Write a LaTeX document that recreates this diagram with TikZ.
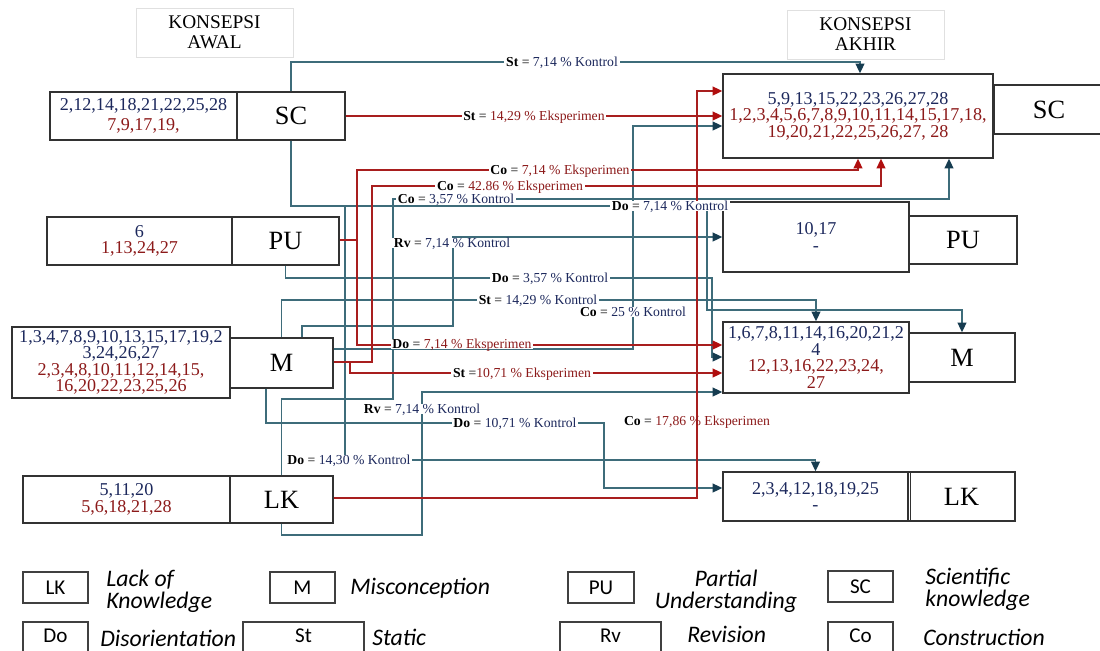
\documentclass[tikz,border=0pt]{standalone}
\usepackage{fontspec}
\setmainfont{Liberation Serif}
\newfontfamily\legfont{Carlito}
\usetikzlibrary{arrows.meta}
\definecolor{tealc}{RGB}{62,108,122}
\definecolor{redc}{RGB}{168,30,30}
\definecolor{arrnavy}{RGB}{22,60,80}
\definecolor{arrred}{RGB}{176,14,14}
\definecolor{numnavy}{RGB}{28,40,92}
\definecolor{numred}{RGB}{140,26,26}
\definecolor{boxc}{RGB}{50,50,50}
\newcommand\lblK[2]{\textbf{#1} = \textcolor{numnavy}{#2 \% Kontrol}}
\newcommand\lblE[2]{\textbf{#1} = \textcolor{numred}{#2 \% Eksperimen}}
\newcommand\nv[1]{\textcolor{numnavy}{#1}}
\newcommand\nr[1]{\textcolor{numred}{#1}}
\begin{document}
\begin{tikzpicture}[x=0.02cm,y=-0.02cm,
  box/.style={draw=boxc,line width=0.8pt,inner sep=0pt,align=center,font=\fontsize{10.3}{9.4}\selectfont},
  lab/.style={draw=boxc,line width=0.8pt,inner sep=0pt,font=\fontsize{15}{16}\selectfont},
  hdr/.style={draw=black!12,line width=0.5pt,align=center,inner sep=0pt,font=\fontsize{11}{11.3}\selectfont,minimum width=3.14cm,minimum height=0.98cm},
  tl/.style={draw=tealc,line width=0.9pt},
  rl/.style={draw=redc,line width=0.9pt},
  ta/.style={tl,-{Triangle[length=5.5pt,width=5pt,color=arrnavy]}},
  ra/.style={rl,-{Triangle[length=5.5pt,width=5pt,color=arrred]}},
  lbl/.style={fill=white,inner xsep=1pt,inner ysep=0.4pt,text height=5.3pt,text depth=0pt,font=\fontsize{7.8}{9}\selectfont},
  leg/.style={draw=black!75,line width=0.8pt,inner sep=0pt,minimum width=1.3cm,minimum height=0.62cm,font=\legfont\fontsize{12}{13}\selectfont},
  legb/.style={font=\legfont\fontsize{12}{13}\selectfont,inner sep=0pt},
  legt/.style={inner sep=0pt,font=\legfont\itshape\fontsize{13.5}{12.5}\selectfont,align=left}
]
\useasboundingbox (0,0) rectangle (1100,650);

% headers
\node[hdr] (hawal) at (214.5,32.5) {KONSEPSI\\AWAL};
\node[hdr] (hakhir) at (865.5,34.5) {KONSEPSI\\AKHIR};

% left boxes
\node[box,minimum width=3.74cm,minimum height=0.96cm,font=\fontsize{10.3}{11.3}\selectfont] (scLn) at (143.5,116) {\nv{2,12,14,18,21,22,25,28}\\\nr{7,9,17,19,}};
\node[lab,minimum width=2.16cm,minimum height=0.96cm] (scL) at (291,116) {SC};
\node[box,minimum width=3.70cm,minimum height=0.96cm] (puLn) at (139.5,241) {\nv{6}\\\nr{1,13,24,27}};
\node[lab,minimum width=2.14cm,minimum height=0.96cm] (puL) at (285.5,241) {PU};
\node[box,minimum width=4.36cm,minimum height=1.42cm] (mLn) at (121,362.5) {\nv{1,3,4,7,8,9,10,13,15,17,19,2}\\\nv{3,24,26,27}\\\nr{2,3,4,8,10,11,12,14,15,}\\\nr{16,20,22,23,25,26}};
\node[lab,minimum width=2.06cm,minimum height=1.0cm] (mL) at (281.5,363) {M};
\node[box,minimum width=4.14cm,minimum height=0.94cm] (lkLn) at (126.5,499.5) {\nv{5,11,20}\\\nr{5,6,18,21,28}};
\node[lab,minimum width=2.06cm,minimum height=0.94cm] (lkL) at (281.5,499.5) {LK};

% right boxes
\node[box,minimum width=5.4cm,minimum height=1.68cm] (scRn) at (858,116) {\nv{5,9,13,15,22,23,26,27,28}\\\nr{1,2,3,4,5,6,7,8,9,10,11,14,15,17,18,}\\\nr{19,20,21,22,25,26,27, 28}};
\node[lab,minimum width=2.2cm,minimum height=0.98cm] (scR) at (1049,109.5) {SC};
\node[box,minimum width=3.72cm,minimum height=1.4cm] (puRn) at (816,237) {\nv{10,17}\\\nv{-}};
\node[lab,minimum width=2.16cm,minimum height=0.96cm] (puR) at (963,240) {PU};
\node[box,minimum width=3.72cm,minimum height=1.42cm] (mRn) at (816,357.5) {\nv{1,6,7,8,11,14,16,20,21,2}\\\nv{4}\\\nr{12,13,16,22,23,24,}\\\nr{27}};
\node[lab,minimum width=2.12cm,minimum height=0.98cm] (mR) at (962,357.5) {M};
\node[box,minimum width=3.7cm,minimum height=0.98cm] (lkRn) at (815.5,496.5) {\nv{2,3,4,12,18,19,25}\\\nv{-}};
\node[lab,minimum width=2.14cm,minimum height=0.98cm] (lkR) at (961.5,496.5) {LK};
\draw[boxc,line width=0.5pt] ([xshift=1.6pt]lkR.north west) -- ([xshift=1.6pt]lkR.south west);

% teal connectors
\draw[ta] (scL.north) |- (860,62) -- (scRn.north -| 860,0);
\draw[ta] (mL.east |- 0,349) -| (633,126) -- (scRn.west |- 0,126);
\draw[ta] (lkL.north) |- (393,399) |- (949,199) -- (scRn.south -| 949,0);
\draw[ta] (scL.south) |- (707,206) |- (962,310) -- (mR.north);
\draw[ta] (scL.south) |- (345,206) |- (815.5,460) -- (lkRn.north);
\draw[ta] (puL.south) |- (712,278) |- (mRn.west |- 0,357);
\draw[ta] (mL.north) |- (816,300) -- (mRn.north);
\draw[ta] (mL.north -| 302,0) |- (453,326) |- (puRn.west |- 0,237);
\draw[ta] (lkL.south) |- (422,535) |- (mRn.west |- 0,392);
\draw[ta] (mL.south -| 266,0) |- (604,423) |- (lkRn.west |- 0,488);

% red connectors
\draw[ra] (scL.east) -- (scRn.west);
\draw[ra] (lkL.east |- 0,498) -| (697,91) -- (scRn.west |- 0,91);
\draw[ra] (puL.east |- 0,240) -| (357,170) -| (scRn.south -| 858,0);
\draw[ra] (puL.east |- 0,240) -| (357,345) -- (mRn.west |- 0,345);
\draw[ra] (mL.east |- 0,362) -| (372,186) -| (scRn.south -| 881,0);
\draw[ra] (mL.east |- 0,362) -| (350,373) -- (mRn.west |- 0,373);

% connector labels
\node[lbl] (l1) at (562,62) {\lblK{St}{7,14}};
\node[lbl] (l2) at (534,116) {\lblE{St}{14,29}};
\node[lbl] (l3) at (560,170) {\lblE{Co}{7,14}};
\node[lbl] (l4) at (510,186) {\lblE{Co}{42.86}};
\node[lbl] (l5) at (456,199) {\lblK{Co}{3,57}};
\node[lbl] (l6) at (670,206) {\lblK{Do}{7,14}};
\node[lbl] (l7) at (452,243) {\lblK{Rv}{7,14}};
\node[lbl] (l8) at (550,278) {\lblK{Do}{3,57}};
\node[lbl] (l9) at (538,300) {\lblK{St}{14,29}};
\node[lbl] (l10) at (633,312) {\lblK{Co}{25}};
\node[lbl] (l11) at (462,344) {\lblE{Do}{7,14}};
\node[lbl] (l12) at (522,373) {\textbf{St} =\textcolor{numred}{10,71 \% Eksperimen}};
\node[lbl] (l13) at (422,409) {\lblK{Rv}{7,14}};
\node[lbl] (l14) at (515,423) {\lblK{Do}{10,71}};
\node[lbl,fill=none] (l15) at (697,421) {\lblE{Co}{17,86}};
\node[lbl] (l16) at (349,460) {\lblK{Do}{14,30}};

% legend row 1
\node[leg] (lgLK) at (55.5,587.5) {LK};
\node[legt,anchor=west] (tLK) at (106,591) {Lack of\\Knowledge};
\node[leg] (lgM) at (302.5,587.5) {M};
\node[legt,anchor=west] (tM) at (350,588) {Misconception};
\node[leg,minimum width=1.32cm] (lgPU) at (601,587.5) {PU};
\node[legt,align=center] (tPU) at (726,591) {Partial\\Understanding};
\node[leg] (lgSC) at (860.5,586.5) {SC};
\node[legt,anchor=west] (tSC) at (925,589) {Scientific\\knowledge};

% legend row 2
\node[leg,minimum height=0.76cm] (lgDo) at (55.5,641) {};
\node[legb] (lgDot) at (lgDo.center |- 0,636) {Do};
\node[legt,anchor=west] (tDo) at (100,638) {Disorientation};
\node[leg,minimum width=2.42cm,minimum height=0.76cm] (lgSt) at (303.5,641) {};
\node[legb] (lgStt) at (lgSt.center |- 0,636) {St};
\node[legt,anchor=west] (tSt) at (372,637) {Static};
\node[leg,minimum width=2.02cm,minimum height=0.76cm] (lgRv) at (610.5,641) {};
\node[legb] (lgRvt) at (lgRv.center |- 0,636) {Rv};
\node[legt,anchor=west] (tRv) at (687,634) {Revision};
\node[leg,minimum height=0.76cm] (lgCo) at (860.5,641) {};
\node[legb] (lgCot) at (lgCo.center |- 0,636) {Co};
\node[legt,anchor=west] (tCo) at (923,637) {Construction};
\end{tikzpicture}
\end{document}
